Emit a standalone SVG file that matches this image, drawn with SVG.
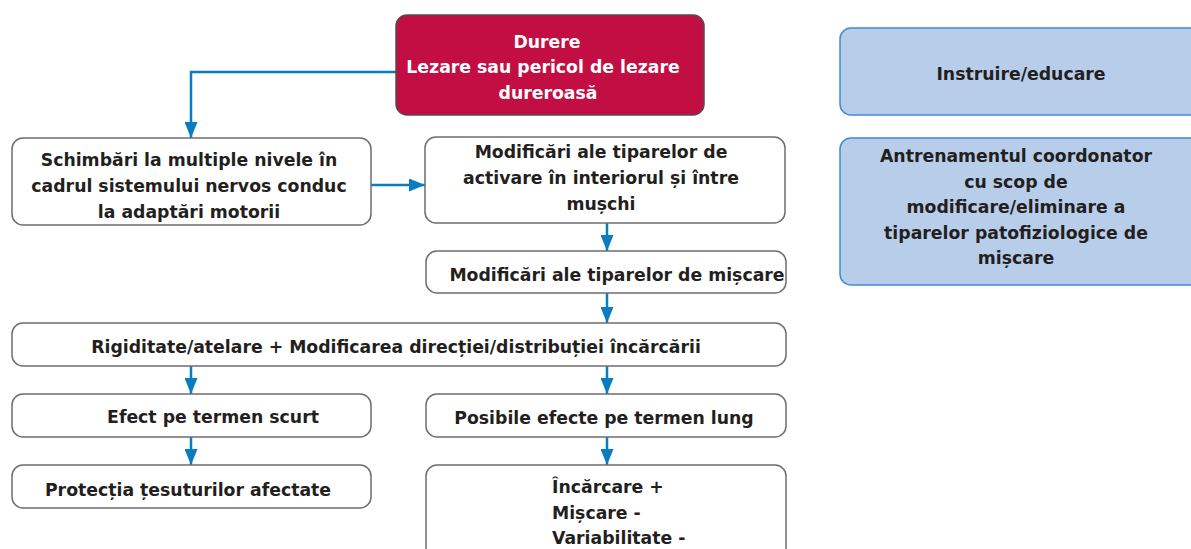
<svg xmlns="http://www.w3.org/2000/svg" width="1191" height="549" viewBox="0 0 1191 549">
<style>
text{font-family:"DejaVu Sans","Liberation Sans",sans-serif;font-weight:bold;font-size:17.3px;fill:#231f20;text-anchor:middle}
.w{fill:#fff;stroke:#6d6e71;stroke-width:1.5}
.r{fill:#c20e42;stroke:#5a4a4f;stroke-width:1.5}
.b{fill:#b8cdea;stroke:#3d8fd0;stroke-width:1.5}
.wt{fill:#fff}
.c{fill:none;stroke:#0a7cc2;stroke-width:2.5}
</style>
<defs>
<marker id="ah" viewBox="0 0 16 13" refX="16" refY="6.5" markerWidth="16" markerHeight="13" orient="auto" markerUnits="userSpaceOnUse">
<path d="M0,0 L16,6.5 L0,13 z" fill="#0a7cc2"/>
</marker>
</defs>
<g id="connectors">
<path class="c" d="M396,72 H191 V138" marker-end="url(#ah)"/>
<path class="c" d="M371,185 H425" marker-end="url(#ah)"/>
<path class="c" d="M607,223 V251" marker-end="url(#ah)"/>
<path class="c" d="M607,293 V323" marker-end="url(#ah)"/>
<path class="c" d="M191,366 V394" marker-end="url(#ah)"/>
<path class="c" d="M607,366 V394" marker-end="url(#ah)"/>
<path class="c" d="M191,437 V465" marker-end="url(#ah)"/>
<path class="c" d="M607,437 V465" marker-end="url(#ah)"/>
</g>
<g id="durere">
<rect class="r" x="396" y="15" width="308" height="100" rx="11"/>
<text class="wt" x="547" y="48">Durere</text>
<text class="wt" x="543" y="73">Lezare sau pericol de lezare</text>
<text class="wt" x="548" y="99">dureroasă</text>
</g>
<g id="schimbari">
<rect class="w" x="12" y="138" width="359" height="87" rx="11"/>
<text x="189" y="166">Schimbări la multiple nivele în</text>
<text x="189" y="192">cadrul sistemului nervos conduc</text>
<text x="189" y="218">la adaptări motorii</text>
</g>
<g id="activare">
<rect class="w" x="425" y="137" width="360" height="86" rx="11"/>
<text x="601" y="158">Modificări ale tiparelor de</text>
<text x="601" y="184">activare în interiorul și între</text>
<text x="601" y="210">mușchi</text>
</g>
<g id="miscare">
<rect class="w" x="426" y="251" width="360" height="42" rx="11"/>
<text x="617" y="281">Modificări ale tiparelor de mișcare</text>
</g>
<g id="rigiditate">
<rect class="w" x="12" y="323" width="774" height="43" rx="11"/>
<text x="396" y="353">Rigiditate/atelare + Modificarea direcției/distribuției încărcării</text>
</g>
<g id="scurt">
<rect class="w" x="12" y="394" width="359" height="43" rx="11"/>
<text x="213" y="423">Efect pe termen scurt</text>
</g>
<g id="lung">
<rect class="w" x="426" y="394" width="360" height="43" rx="11"/>
<text x="604" y="424">Posibile efecte pe termen lung</text>
</g>
<g id="protectia">
<rect class="w" x="12" y="465" width="359" height="43" rx="11"/>
<text x="188" y="496">Protecția țesuturilor afectate</text>
</g>
<g id="efecte">
<rect class="w" x="426" y="465" width="360" height="95" rx="11"/>
<text x="552" y="493" style="text-anchor:start">Încărcare +</text>
<text x="552" y="519" style="text-anchor:start">Mișcare -</text>
<text x="552" y="544" style="text-anchor:start">Variabilitate -</text>
</g>
<g id="instruire">
<rect class="b" x="840" y="28" width="365" height="87" rx="11"/>
<text x="1021" y="80">Instruire/educare</text>
</g>
<g id="antrenament">
<rect class="b" x="840" y="138" width="365" height="147" rx="11"/>
<text x="1016" y="162">Antrenamentul coordonator</text>
<text x="1016" y="188">cu scop de</text>
<text x="1016" y="213">modificare/eliminare a</text>
<text x="1016" y="239">tiparelor patofiziologice de</text>
<text x="1016" y="264">mișcare</text>
</g>
</svg>
